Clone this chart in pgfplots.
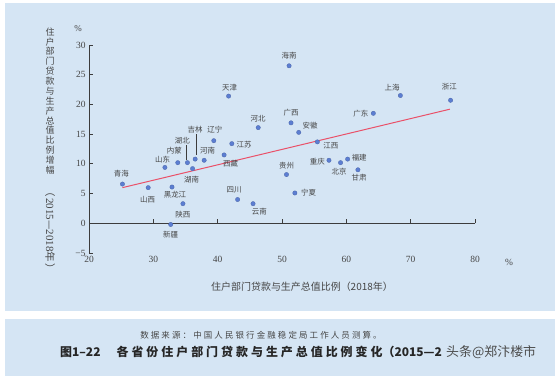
\documentclass[border=0pt]{standalone}
\usepackage{pgfplots}
\pgfplotsset{compat=1.18}
\usepackage{pgfplotstable}
\usepackage{graphicx}
\usepackage{fontspec}
\setmainfont{Liberation Serif}
\newfontfamily\cjk{Noto Sans CJK SC}
\newfontfamily\cjkls{Noto Sans CJK SC}[LetterSpace=25]
\definecolor{bg}{RGB}{213,229,244}
\definecolor{ptc}{RGB}{92,126,210}
\definecolor{trend}{RGB}{234,80,104}
\definecolor{axc}{RGB}{60,60,60}
\definecolor{txt}{RGB}{70,70,70}

\pgfplotstableread{
x y name dx dy
41.7 21.4 天津 1 8
46.3 16.1 河北 0 8.7
39.4 13.9 辽宁 1 11
36.5 10.8 吉林 0 29.4
42.2 13.4 江苏 12.3 -1.3
35.3 10.2 湖北 -5 22.3
33.8 10.2 内蒙 -3.4 11.6
31.8 9.4 山东 -2.3 7.7
37.9 10.6 河南 3.4 9.6
41.0 11.5 西藏 6.4 -9
36.1 9.2 湖南 -1 -11
25.2 6.6 青海 -1 10.7
29.2 6.0 山西 -0.6 -12
32.9 6.1 黑龙江 3 -8
34.6 3.3 陕西 0 -11
32.7 -0.2 新疆 0 -10
43.1 4.0 四川 -3.4 10
45.5 3.3 云南 6.3 -7.7
51.1 26.5 海南 0 9.7
68.4 21.5 上海 -8.3 7.4
76.2 20.7 浙江 -1.3 14
64.2 18.5 广东 -12.6 0
51.4 16.9 广西 0 10.3
52.6 15.3 安徽 11.3 7
55.5 13.7 江西 13.4 -4
60.2 10.8 福建 11.6 1.4
57.3 10.6 重庆 -11.7 -1.7
59.1 10.2 北京 -1.4 -9.4
61.8 9.0 甘肃 1.3 -8
50.7 8.2 贵州 0 9
52.0 5.1 宁夏 13.7 0
}\provdata

\begin{document}
\begin{tikzpicture}[x=1bp,y=1bp]
\useasboundingbox (0,0) rectangle (558,378);
\fill[white] (0,0) rectangle (558,378);
\fill[bg] (5,67) rectangle (555,375);
\fill[bg] (5,2) rectangle (555,59);
\begin{axis}[
  at={(89bp,125bp)}, anchor=south west, scale only axis,
  width=386bp, height=208bp,
  xmin=20, xmax=80, ymin=-5, ymax=30,
  axis lines=left,
  axis line style={-, draw=axc, line width=0.8pt},
  x axis line style={draw=none},
  xtick={20,30,...,80}, ytick={-5,0,...,30},
  yticklabels={−5,0,5,10,15,20,25,30},
  xtick style={draw=none},
  ytick style={draw=axc, line width=0.8pt},
  tick align=inside, major tick length=4bp,
  ticklabel style={font=\fontsize{9.5}{10}\selectfont, text=txt},
  /pgf/number format/assume math mode=true,
  clip=false,
]
\draw[axc, line width=0.8pt] (axis cs:20,0) -- (axis cs:80,0);
\pgfplotsinvokeforeach{30,40,50,60,70,80}{\draw[axc, line width=0.8pt] (axis cs:#1,0) -- (axis cs:#1,0.7);}
\draw[axc, line width=0.5pt] (axis cs:36.7,11.5) -- (axis cs:36.7,15.0);
\draw[axc, line width=0.5pt] (axis cs:35.1,10.6) -- (axis cs:35.1,13.2);
\addplot[trend, line width=1pt] coordinates {(25.2,6.0) (76.1,19.2)};
\addplot[only marks, mark=*, mark size=2.2bp,
  mark options={fill=ptc, draw=ptc!80!black, line width=0.3pt},
  nodes near coords, point meta=explicit symbolic,
  visualization depends on={\thisrow{dx}\as\dx},
  visualization depends on={\thisrow{dy}\as\dy},
  every node near coord/.append style={anchor=center, xshift=\dx bp, yshift=\dy bp,
     font=\cjk\fontsize{7.5}{8}\selectfont, text=txt, inner sep=0pt}
] table[x=x, y=y, meta=name] {\provdata};
\end{axis}
\node[text=txt, font=\fontsize{9}{10}\selectfont] at (78,349) {\%};
\node[text=txt, font=\fontsize{9.5}{10}\selectfont] at (509,116) {\%};
\node[anchor=north, inner sep=0pt, align=center, text=txt,
      font=\cjk\fontsize{9}{9.9}\selectfont] at (50,350.5)
  {住\\户\\部\\门\\贷\\款\\与\\生\\产\\总\\值\\比\\例\\增\\幅\\[3pt]\rotatebox{-90}{\fontsize{10.5}{11}\selectfont （\,{\rmfamily\fontsize{11}{11}\selectfont 2015}—{\rmfamily\fontsize{11}{11}\selectfont 2018}年\,）}};
\node[text=txt, font=\cjk\fontsize{10}{12}\selectfont] at (302,91) {住户部门贷款与生产总值比例（2018年）};
\node[text=txt, font=\cjkls\fontsize{8.5}{10}\selectfont] at (261,43) {数据来源：中国人民银行金融稳定局工作人员测算。};
\node[anchor=west, inner sep=0pt, text=black!85, font=\cjk\bfseries\fontsize{12}{14}\selectfont] at (60,26)
  {图1–22\hspace{16bp}{\cjkls\bfseries 各省份住户部门贷款与生产总值比例变化}（2015—2};
\node[anchor=west, inner sep=0pt, text=black!70, font=\cjk\fontsize{13}{14}\selectfont] at (446,26) {头条@郑汴楼市};
\end{tikzpicture}
\end{document}
